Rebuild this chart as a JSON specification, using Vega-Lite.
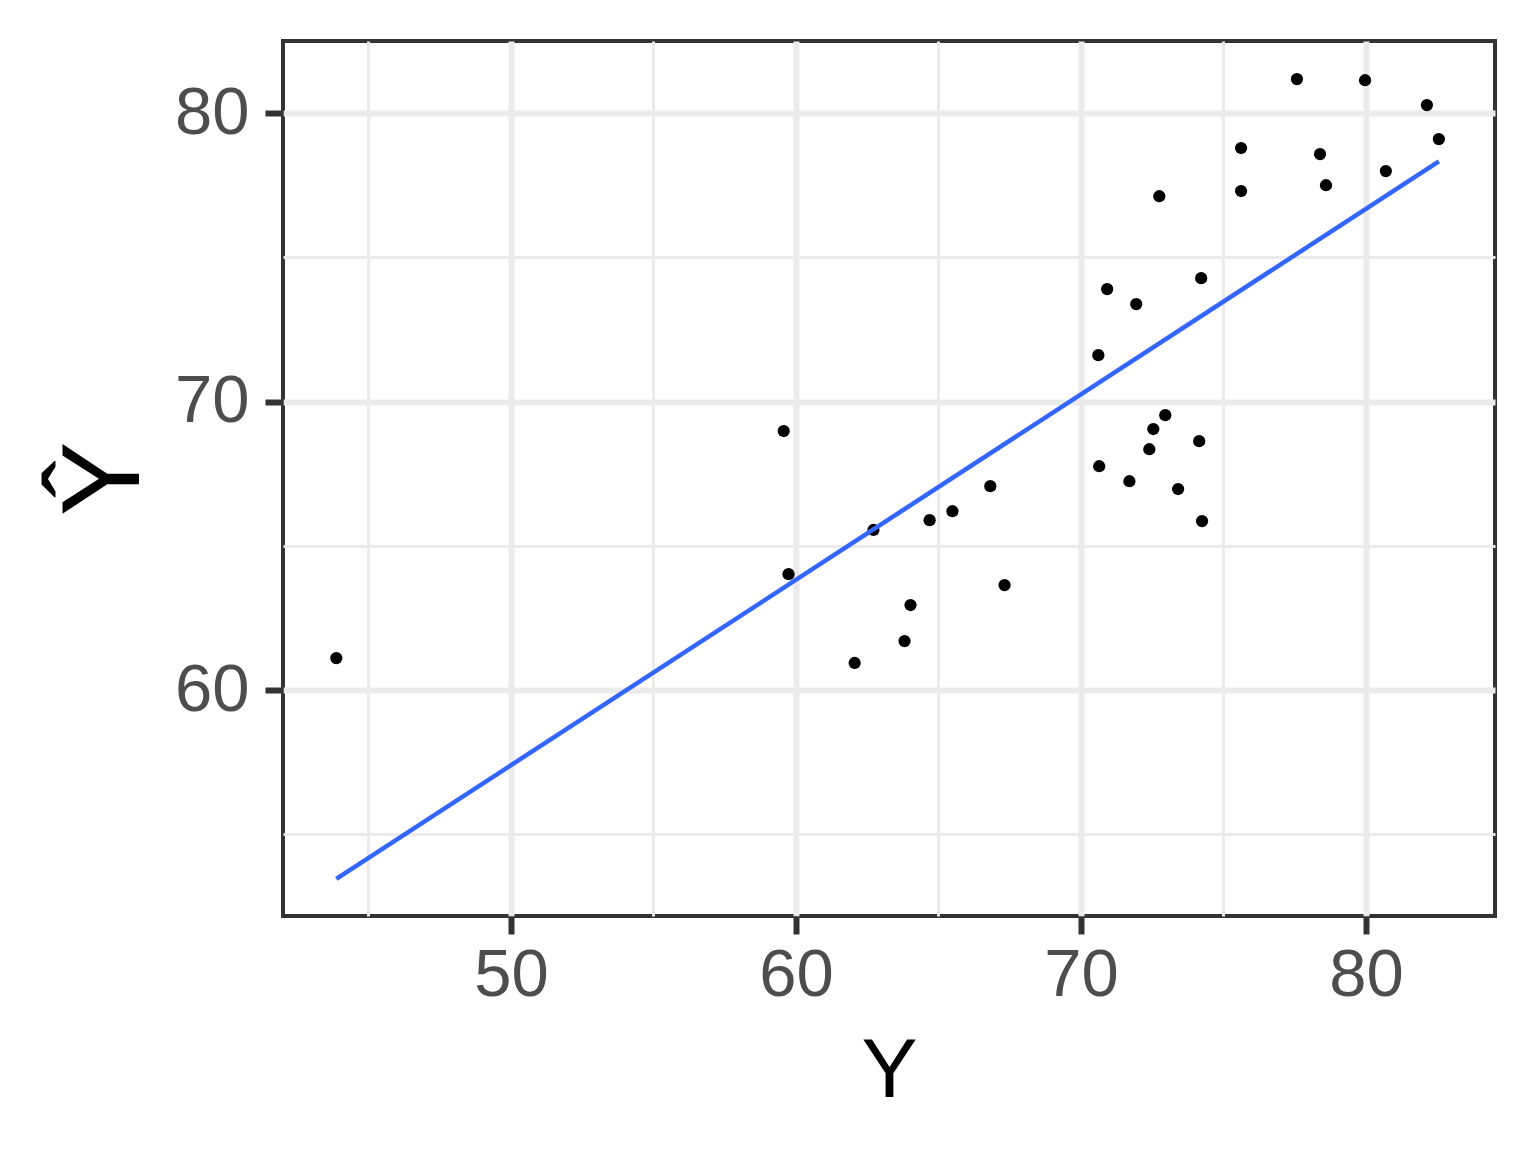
{
  "$schema": "https://vega.github.io/schema/vega-lite/v6.json",
  "width": 1212,
  "height": 875,
  "autosize": {"type": "none"},
  "padding": {"left": 283, "top": 41, "right": 41, "bottom": 236},
  "background": "white",
  "config": {
    "view": {"stroke": "#333333", "strokeWidth": 4},
    "font": "Liberation Sans"
  },
  "data": {
    "values": [
      {"Y": 43.87, "Yhat": 61.11},
      {"Y": 59.57, "Yhat": 68.98},
      {"Y": 59.74, "Yhat": 64.02},
      {"Y": 62.06, "Yhat": 60.94},
      {"Y": 62.72, "Yhat": 65.55},
      {"Y": 63.81, "Yhat": 61.70},
      {"Y": 64.02, "Yhat": 62.95},
      {"Y": 64.69, "Yhat": 65.89},
      {"Y": 65.49, "Yhat": 66.20},
      {"Y": 66.82, "Yhat": 67.07},
      {"Y": 67.32, "Yhat": 63.64},
      {"Y": 70.61, "Yhat": 71.61},
      {"Y": 70.64, "Yhat": 67.76},
      {"Y": 70.92, "Yhat": 73.90},
      {"Y": 71.70, "Yhat": 67.24},
      {"Y": 71.94, "Yhat": 73.38},
      {"Y": 72.40, "Yhat": 68.35},
      {"Y": 72.54, "Yhat": 69.05},
      {"Y": 72.75, "Yhat": 77.12},
      {"Y": 72.96, "Yhat": 69.53},
      {"Y": 73.41, "Yhat": 66.97},
      {"Y": 74.15, "Yhat": 68.63},
      {"Y": 74.22, "Yhat": 74.28},
      {"Y": 74.25, "Yhat": 65.86},
      {"Y": 75.62, "Yhat": 78.79},
      {"Y": 75.62, "Yhat": 77.30},
      {"Y": 77.58, "Yhat": 81.18},
      {"Y": 78.39, "Yhat": 78.58},
      {"Y": 78.60, "Yhat": 77.50},
      {"Y": 79.97, "Yhat": 81.14},
      {"Y": 80.70, "Yhat": 77.99},
      {"Y": 82.14, "Yhat": 80.28},
      {"Y": 82.56, "Yhat": 79.10}
    ]
  },
  "layer": [
    {
      "mark": {"type": "circle", "color": "black", "opacity": 1, "size": 150},
      "encoding": {
        "x": {
          "field": "Y", "type": "quantitative",
          "scale": {"domain": [42.0, 84.53], "nice": false, "zero": false},
          "axis": {
            "title": "Y",
            "values": [45, 50, 55, 60, 65, 70, 75, 80],
            "labelExpr": "datum.value % 10 === 0 ? datum.label : ''",
            "domain": false,
            "grid": true,
            "gridColor": "#EBEBEB",
            "gridWidth": {"condition": {"test": "datum.value % 10 === 0", "value": 6}, "value": 3},
            "tickColor": {"condition": {"test": "datum.value % 10 === 0", "value": "#333333"}, "value": "rgba(0,0,0,0)"},
            "tickWidth": 6,
            "tickSize": 18,
            "labelFontSize": 67,
            "labelColor": "#4D4D4D",
            "labelFont": "Liberation Sans",
            "labelPadding": 8,
            "labelFlush": false,
            "labelOverlap": false,
            "titleFontSize": 84,
            "titleFontWeight": "normal",
            "titleColor": "black",
            "titleFont": "Liberation Sans",
            "titlePadding": 22
          }
        },
        "y": {
          "field": "Yhat", "type": "quantitative",
          "scale": {"domain": [52.17, 82.5], "nice": false, "zero": false},
          "axis": {
            "title": "Ŷ",
            "values": [55, 60, 65, 70, 75, 80],
            "labelExpr": "datum.value % 10 === 0 ? datum.label : ''",
            "domain": false,
            "grid": true,
            "gridColor": "#EBEBEB",
            "gridWidth": {"condition": {"test": "datum.value % 10 === 0", "value": 6}, "value": 3},
            "tickColor": {"condition": {"test": "datum.value % 10 === 0", "value": "#333333"}, "value": "rgba(0,0,0,0)"},
            "tickWidth": 6,
            "tickSize": 18,
            "labelFontSize": 67,
            "labelColor": "#4D4D4D",
            "labelFont": "Liberation Sans",
            "labelPadding": 16,
            "labelFlush": false,
            "labelOverlap": false,
            "titleFontSize": 112,
            "titleFontWeight": "normal",
            "titleColor": "black",
            "titleFont": "Liberation Sans",
            "titlePadding": 12
          }
        }
      }
    },
    {
      "transform": [{"regression": "Yhat", "on": "Y"}],
      "mark": {"type": "line", "color": "#3366FF", "strokeWidth": 4.5},
      "encoding": {
        "x": {"field": "Y", "type": "quantitative"},
        "y": {"field": "Yhat", "type": "quantitative"}
      }
    }
  ]
}
